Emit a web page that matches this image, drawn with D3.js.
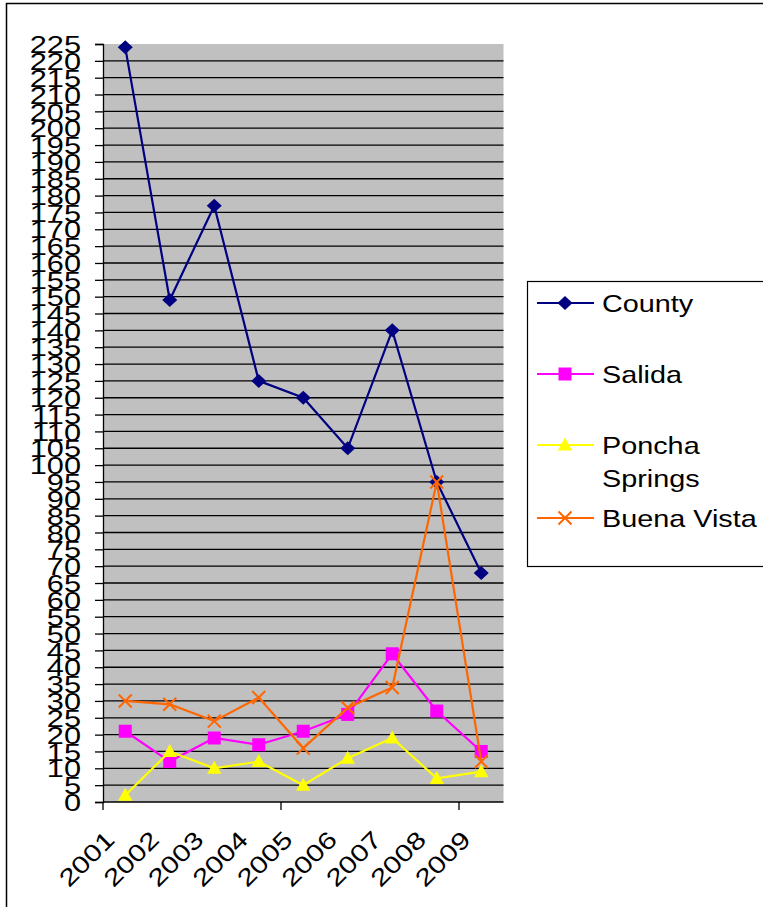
<!DOCTYPE html>
<html>
<head>
<meta charset="utf-8">
<script src="https://cdn.jsdelivr.net/npm/d3@7"></script>
<style>
  html, body { margin: 0; padding: 0; background: #fff; }
  svg { display: block; }
  text { font-family: "Liberation Sans", Arial, sans-serif; fill: #000; }
</style>
</head>
<body>
<svg id="chart" width="763" height="907"></svg>
<script>
// Yearly counts by jurisdiction
const years = ["2001", "2002", "2003", "2004", "2005", "2006", "2007", "2008", "2009"];
const county = [224, 149, 177, 125, 120, 105, 140, 95, 68];
const salida = [21, 12, 19, 17, 21, 26, 44, 27, 15];
const ponchaSprings = [2, 15, 10, 12, 5, 13, 19, 7, 9];
const buenaVista = [30, 29, 24, 31, 16, 28, 34, 95, 12];
const yTicks = d3.range(0, 226, 5);

const series = [
  { name: ["County"], values: county, color: "#000080", marker: "diamond" },
  { name: ["Salida"], values: salida, color: "#FF00FF", marker: "square" },
  { name: ["Poncha", "Springs"], values: ponchaSprings, color: "#FFFF00", marker: "triangle" },
  { name: ["Buena Vista"], values: buenaVista, color: "#FF6600", marker: "cross" }
];

const svg = d3.select("#chart");
const plot = { left: 103, right: 503.5, top: 44, bottom: 802 };

const x = d3.scaleBand().domain(years).range([plot.left, plot.right]).padding(0);
const y = d3.scaleLinear().domain([0, 225]).range([plot.bottom, plot.top]);
const cx = d => x(d) + x.bandwidth() / 2;

// outer chart frame
svg.append("rect")
  .attr("x", 6.5).attr("y", 3.5).attr("width", 900).attr("height", 1000)
  .attr("fill", "#fff").attr("stroke", "#000").attr("stroke-width", 1.5);

// plot background
svg.append("rect")
  .attr("x", plot.left).attr("y", plot.top)
  .attr("width", plot.right - plot.left).attr("height", plot.bottom - plot.top)
  .attr("fill", "#C0C0C0");

// horizontal gridlines
svg.append("g").selectAll("line")
  .data(yTicks.filter(v => v > 0 && v < 225))
  .join("line")
  .attr("x1", plot.left).attr("x2", plot.right)
  .attr("y1", d => y(d)).attr("y2", d => y(d))
  .attr("stroke", "#000").attr("stroke-width", 1.3);

// y axis: line, ticks and labels
const yAxis = svg.append("g").attr("transform", `translate(${plot.left},0)`)
  .call(d3.axisLeft(y).tickValues(yTicks).tickSize(8).tickFormat(d3.format("d")));
yAxis.select(".domain").attr("stroke", "#000").attr("stroke-width", 1.3);
yAxis.selectAll(".tick line").attr("stroke", "#000").attr("stroke-width", 1.3);
yAxis.selectAll(".tick text").remove();
yAxis.selectAll(".tick").append("text")
  .attr("text-anchor", "end")
  .attr("dy", "0.36em")
  .attr("font-size", 24)
  .attr("transform", "translate(-22,0) scale(1.28,1)")
  .text(d => d);

// x axis line with ticks every fourth category boundary
svg.append("line")
  .attr("x1", plot.left).attr("x2", plot.right)
  .attr("y1", plot.bottom).attr("y2", plot.bottom)
  .attr("stroke", "#000").attr("stroke-width", 1.3);
svg.append("g").selectAll("line")
  .data(years.filter((d, i) => i % 4 === 0))
  .join("line")
  .attr("x1", d => x(d)).attr("x2", d => x(d))
  .attr("y1", plot.bottom).attr("y2", plot.bottom + 8)
  .attr("stroke", "#000").attr("stroke-width", 1.3);

// rotated category labels
svg.append("g").selectAll("text")
  .data(years)
  .join("text")
  .attr("text-anchor", "end")
  .attr("dy", "0.36em")
  .attr("font-size", 24)
  .attr("transform", d => `translate(${x(d) + 7},${835}) rotate(-45) scale(1.25,1)`)
  .text(d => d);

// marker shapes
function drawMarker(g, type, color) {
  if (type === "diamond") {
    g.append("path").attr("d", "M0,-7L7.5,0L0,7L-7.5,0Z").attr("fill", color);
  } else if (type === "square") {
    g.append("rect").attr("x", -6.5).attr("y", -6.5).attr("width", 13).attr("height", 13).attr("fill", color);
  } else if (type === "triangle") {
    g.append("path").attr("d", "M0,-7.5L7.2,5.5L-7.2,5.5Z").attr("fill", color);
  } else if (type === "cross") {
    g.append("path").attr("d", "M-6.5,-6.5L6.5,6.5M-6.5,6.5L6.5,-6.5")
      .attr("stroke", color).attr("stroke-width", 2).attr("fill", "none");
  }
}

const line = d3.line().x((d, i) => cx(years[i])).y(d => y(d));

series.forEach(s => {
  const g = svg.append("g");
  g.append("path")
    .attr("d", line(s.values))
    .attr("fill", "none").attr("stroke", s.color).attr("stroke-width", 2.2);
  s.values.forEach((v, i) => {
    const m = g.append("g").attr("transform", `translate(${cx(years[i])},${y(v)})`);
    drawMarker(m, s.marker, s.color);
  });
});

// legend
const legend = svg.append("g");
legend.append("rect")
  .attr("x", 527.5).attr("y", 281.5).attr("width", 400).attr("height", 285)
  .attr("fill", "#fff").attr("stroke", "#000").attr("stroke-width", 1.2);

const legendRows = [303, 374, 445, 518];
series.forEach((s, i) => {
  const row = legend.append("g").attr("transform", `translate(0,${legendRows[i]})`);
  row.append("line").attr("x1", 537).attr("x2", 594).attr("y1", 0).attr("y2", 0)
    .attr("stroke", s.color).attr("stroke-width", 2);
  const m = row.append("g").attr("transform", "translate(565,0)");
  drawMarker(m, s.marker, s.color);
  s.name.forEach((line, j) => {
    row.append("text")
      .attr("font-size", 24)
      .attr("dy", "0.36em")
      .attr("transform", `translate(602,${j * 33}) scale(1.2,1)`)
      .text(line);
  });
});
</script>
</body>
</html>
